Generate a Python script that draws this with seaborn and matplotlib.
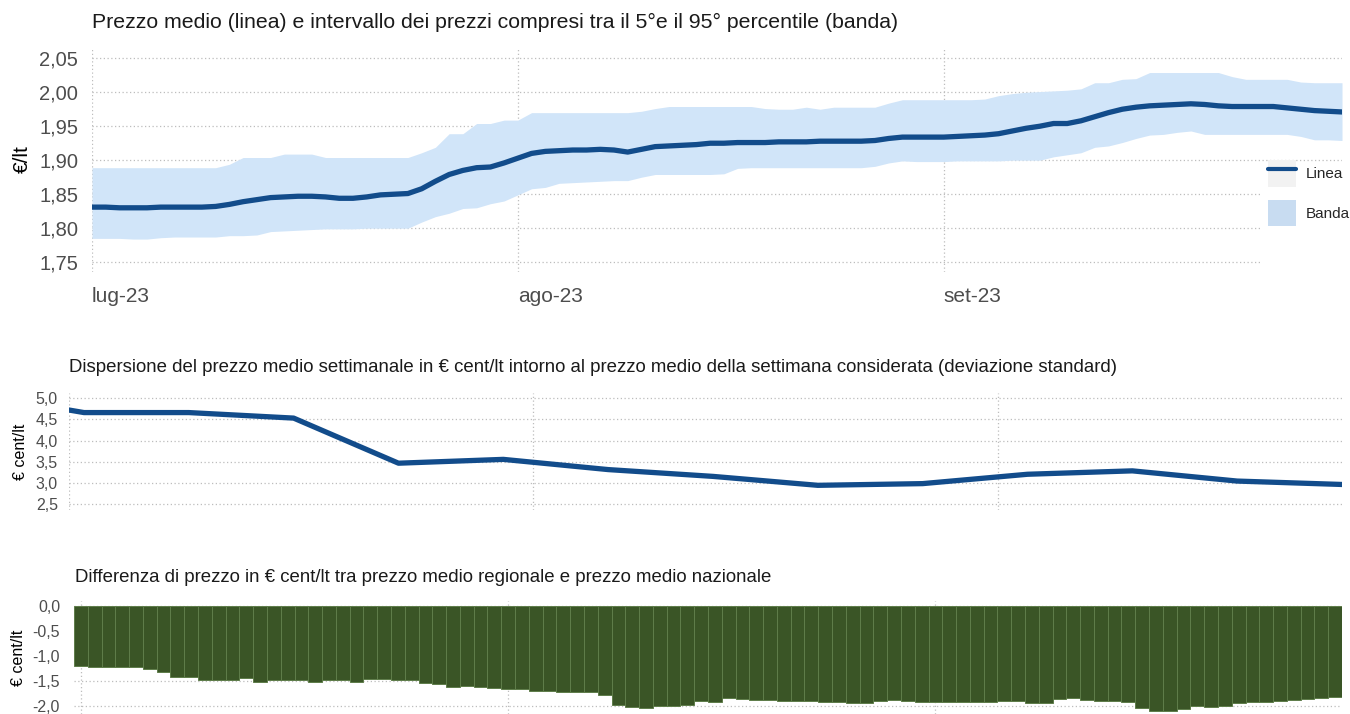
import pandas as pd
import numpy as np
import seaborn as sns
import matplotlib.pyplot as plt
from matplotlib.patches import Patch, Rectangle
from matplotlib.lines import Line2D
from matplotlib.legend_handler import HandlerTuple
from matplotlib.ticker import FuncFormatter

# --- data -------------------------------------------------------------
days = pd.date_range("2023-07-01", "2023-09-30", freq="D")

mean_price = [
    1.831, 1.831, 1.830, 1.830, 1.830, 1.831, 1.831, 1.831, 1.831, 1.832,
    1.835, 1.839, 1.842, 1.845, 1.846, 1.847, 1.847, 1.846, 1.844, 1.844,
    1.846, 1.849, 1.850, 1.851, 1.858, 1.869, 1.879, 1.885, 1.889, 1.890,
    1.896, 1.903, 1.910, 1.913, 1.914, 1.915, 1.915, 1.916, 1.915, 1.912,
    1.916, 1.920, 1.921, 1.922, 1.923, 1.925, 1.925, 1.926, 1.926, 1.926,
    1.927, 1.927, 1.927, 1.928, 1.928, 1.928, 1.928, 1.929, 1.932, 1.934,
    1.934, 1.934, 1.934, 1.935, 1.936, 1.937, 1.939, 1.943, 1.947, 1.950,
    1.954, 1.954, 1.958, 1.964, 1.970, 1.975, 1.978, 1.980, 1.981, 1.982,
    1.983, 1.982, 1.980, 1.979, 1.979, 1.979, 1.979, 1.977, 1.975, 1.973,
    1.972, 1.971,
]
p5 = [
    1.785, 1.785, 1.785, 1.784, 1.784, 1.786, 1.787, 1.787, 1.787, 1.787,
    1.789, 1.789, 1.790, 1.795, 1.796, 1.797, 1.798, 1.799, 1.799, 1.799,
    1.800, 1.800, 1.800, 1.800, 1.809, 1.817, 1.822, 1.829, 1.830, 1.836,
    1.840, 1.849, 1.858, 1.860, 1.866, 1.867, 1.868, 1.869, 1.870, 1.870,
    1.875, 1.879, 1.879, 1.879, 1.879, 1.879, 1.880, 1.888, 1.889, 1.889,
    1.889, 1.889, 1.889, 1.889, 1.889, 1.889, 1.889, 1.891, 1.896, 1.899,
    1.898, 1.898, 1.898, 1.899, 1.899, 1.899, 1.899, 1.900, 1.900, 1.900,
    1.905, 1.908, 1.911, 1.919, 1.921, 1.926, 1.932, 1.937, 1.938, 1.941,
    1.943, 1.938, 1.938, 1.938, 1.938, 1.938, 1.938, 1.938, 1.935, 1.930,
    1.930, 1.929,
]
p95 = [
    1.889, 1.889, 1.889, 1.889, 1.889, 1.889, 1.889, 1.889, 1.889, 1.889,
    1.894, 1.904, 1.904, 1.904, 1.909, 1.909, 1.909, 1.904, 1.904, 1.904,
    1.904, 1.904, 1.904, 1.904, 1.911, 1.919, 1.939, 1.939, 1.954, 1.954,
    1.959, 1.959, 1.970, 1.970, 1.970, 1.970, 1.970, 1.970, 1.970, 1.970,
    1.972, 1.976, 1.979, 1.979, 1.979, 1.979, 1.979, 1.979, 1.979, 1.976,
    1.975, 1.975, 1.978, 1.975, 1.978, 1.978, 1.978, 1.978, 1.984, 1.989,
    1.989, 1.989, 1.989, 1.989, 1.989, 1.990, 1.995, 1.998, 2.000, 2.001,
    2.002, 2.003, 2.005, 2.014, 2.014, 2.019, 2.020, 2.029, 2.029, 2.029,
    2.029, 2.029, 2.029, 2.023, 2.019, 2.019, 2.019, 2.019, 2.015, 2.014,
    2.014, 2.014,
]

week_dates = pd.to_datetime([
    "2023-07-01", "2023-07-02", "2023-07-09", "2023-07-16", "2023-07-23",
    "2023-07-30", "2023-08-06", "2023-08-13", "2023-08-20", "2023-08-27",
    "2023-09-03", "2023-09-10", "2023-09-17", "2023-09-24",
])
std_dev = [4.72, 4.66, 4.66, 4.53, 3.47, 3.56, 3.32, 3.16, 2.95, 2.99,
           3.21, 3.29, 3.05, 2.97]

diff_cent = [
    -1.21, -1.23, -1.23, -1.23, -1.23, -1.27, -1.33, -1.43, -1.43, -1.48,
    -1.49, -1.49, -1.45, -1.52, -1.49, -1.49, -1.48, -1.52, -1.49, -1.48,
    -1.52, -1.47, -1.47, -1.49, -1.48, -1.55, -1.56, -1.62, -1.61, -1.63,
    -1.64, -1.67, -1.67, -1.70, -1.71, -1.73, -1.73, -1.73, -1.78, -1.98,
    -2.03, -2.05, -2.01, -2.01, -1.98, -1.91, -1.93, -1.85, -1.87, -1.89,
    -1.89, -1.90, -1.90, -1.90, -1.92, -1.92, -1.95, -1.95, -1.90, -1.88,
    -1.91, -1.93, -1.93, -1.93, -1.93, -1.93, -1.93, -1.91, -1.91, -1.94,
    -1.95, -1.87, -1.85, -1.89, -1.91, -1.90, -1.92, -2.05, -2.11, -2.11,
    -2.07, -2.01, -2.03, -2.01, -1.95, -1.93, -1.93, -1.91, -1.89, -1.86,
    -1.85, -1.83,
]

month_ticks = pd.to_datetime(["2023-07-01", "2023-08-01", "2023-09-01"])
month_labels = ["lug-23", "ago-23", "set-23"]
y1_ticks = [1.75, 1.80, 1.85, 1.90, 1.95, 2.00, 2.05]
y2_ticks = [2.5, 3.0, 3.5, 4.0, 4.5, 5.0]
y3_ticks = [0.0, -0.5, -1.0, -1.5, -2.0]

title1 = "Prezzo medio (linea) e intervallo dei prezzi compresi tra il 5°e il 95° percentile (banda)"
title2 = ("Dispersione del prezzo medio settimanale in € cent/lt intorno al prezzo medio "
          "della settimana considerata (deviazione standard)")
title3 = "Differenza di prezzo in € cent/lt tra prezzo medio regionale e prezzo medio nazionale"

# --- style ------------------------------------------------------------
sns.set_theme(style="white")
plt.rcParams["font.family"] = ["Liberation Sans", "DejaVu Sans"]

blue = "#124c8b"
band_blue = "#d1e5f9"
green = "#3a5526"
tick_grey = "#4d4d4d"
grid_kw = dict(color="#bdbdbd", linestyle=(0, (1, 2)), linewidth=0.9)


def comma(fmt):
    return FuncFormatter(lambda v, _: fmt.format(v).replace(".", ","))


W, H = 1350, 714


def box(l, t, r, b):
    return [l / W, 1 - b / H, (r - l) / W, (b - t) / H]


fig = plt.figure(figsize=(13.5, 7.14), dpi=100)
ax1 = fig.add_axes(box(92, 46.7, 1342, 271.7))
ax2 = fig.add_axes(box(69, 393, 1342, 510))
ax3 = fig.add_axes(box(74, 600.7, 1342, 714))

# --- panel 1: mean price with 5-95 percentile band ----------------------
ax1.fill_between(days, p5, p95, color=band_blue, lw=0, zorder=2)
sns.lineplot(x=days, y=mean_price, color=blue, lw=3.8, ax=ax1, zorder=3)
ax1.set_xlim(days[0], days[-1])
ax1.set_ylim(1.736, 2.067)
ax1.set_yticks(y1_ticks)
ax1.yaxis.set_major_formatter(comma("{:.2f}"))
ax1.set_xticks(month_ticks)
ax1.set_xticklabels(month_labels, ha="left")
ax1.tick_params(axis="x", length=0, pad=11, labelsize=15, labelcolor=tick_grey)
ax1.tick_params(axis="y", length=0, pad=10, labelsize=14.5, labelcolor=tick_grey)
ax1.grid(True, **grid_kw)
ax1.set_axisbelow(True)
ax1.set_xlabel("")
ax1.set_ylabel("€/lt", fontsize=15, color="black")
ax1.yaxis.set_label_coords(-0.048, 0.5)
ax1.add_patch(Rectangle((0.935, 0), 0.07, 0.485, transform=ax1.transAxes,
                        facecolor="white", edgecolor="none", zorder=1, clip_on=False))

line_key = (Patch(facecolor="#f2f2f2", edgecolor="none"),
            Line2D([], [], color=blue, lw=3))
band_key = Patch(facecolor="#c8dcf1", edgecolor="none")
fig.legend([line_key, band_key], ["Linea", "Banda"],
           handler_map={tuple: HandlerTuple(ndivide=1, pad=0)},
           loc="upper left", bbox_to_anchor=(1268 / W, 1 - 160 / H),
           frameon=False, fontsize=11, handlelength=1.85, handleheight=2.3,
           labelspacing=0.85, handletextpad=0.6, borderpad=0, borderaxespad=0)

# --- panel 2: weekly standard deviation ---------------------------------
sns.lineplot(x=week_dates, y=std_dev, color=blue, lw=3.8, ax=ax2)
ax2.set_xlim(week_dates[0], week_dates[-1])
ax2.set_ylim(2.37, 5.12)
ax2.set_yticks(y2_ticks)
ax2.yaxis.set_major_formatter(comma("{:.1f}"))
ax2.set_xticks(month_ticks)
ax2.set_xticklabels([])
ax2.tick_params(axis="both", length=0)
ax2.tick_params(axis="y", pad=8, labelsize=11.5, labelcolor=tick_grey)
ax2.grid(True, **grid_kw)
ax2.set_axisbelow(True)
ax2.set_xlabel("")
ax2.set_ylabel("€ cent/lt", fontsize=11.5, color="black")
ax2.yaxis.set_label_coords(-0.032, 0.5)

# --- panel 3: regional minus national price -----------------------------
day_labels = list(days.strftime("%Y-%m-%d"))
diff_df = pd.DataFrame({"giorno": day_labels, "diff": diff_cent})
sns.barplot(data=diff_df, x="giorno", y="diff", color=green, saturation=1,
            width=1, edgecolor="#5f7d4a", linewidth=0.7, ax=ax3)
ax3.set_xlim(-0.5, len(day_labels) - 0.5)
ax3.set_ylim(-2.16, 0.1)
ax3.set_yticks(y3_ticks)
ax3.yaxis.set_major_formatter(comma("{:.1f}"))
ax3.set_xticks([day_labels.index(d.strftime("%Y-%m-%d")) for d in month_ticks])
ax3.set_xticklabels([])
ax3.tick_params(axis="both", length=0)
ax3.tick_params(axis="y", pad=10, labelsize=11.5, labelcolor=tick_grey)
ax3.grid(True, **grid_kw)
ax3.set_axisbelow(True)
ax3.set_xlabel("")
ax3.set_ylabel("€ cent/lt", fontsize=11.5, color="black")
ax3.yaxis.set_label_coords(-0.038, 0.5)

for ax in (ax1, ax2, ax3):
    sns.despine(ax=ax, left=True, bottom=True)

fig.text(92 / W, 1 - 22 / H, title1, fontsize=15.3, va="center", color="#1a1a1a")
fig.text(69 / W, 1 - 368 / H, title2, fontsize=13.4, va="center", color="#1a1a1a")
fig.text(75 / W, 1 - 577 / H, title3, fontsize=13.4, va="center", color="#1a1a1a")

fig.savefig("out.png", dpi=100)
